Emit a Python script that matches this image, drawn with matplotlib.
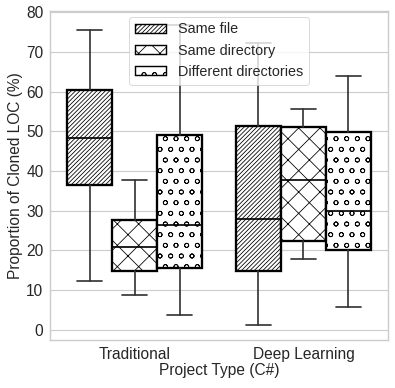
import numpy as np
import matplotlib.pyplot as plt
import matplotlib.patches as mpatches
import seaborn as sns

sns.set_style("whitegrid")
plt.rcParams['font.family'] = ['Liberation Sans', 'DejaVu Sans']
plt.rcParams['hatch.linewidth'] = 0.9

project_types = ["Traditional", "Deep Learning"]
locations = ["Same file", "Same directory", "Different directories"]
hatches = ["/////", "x", "o"]

# box stats: [low whisker, Q1, median, Q3, high whisker]
stats = {
    "Traditional": [
        [12.3, 36.4, 48.4, 60.4, 75.5],
        [8.9, 14.9, 20.8, 27.7, 37.7],
        [3.7, 15.7, 26.4, 49.1, 76.7],
    ],
    "Deep Learning": [
        [1.3, 14.9, 27.8, 51.4, 72.1],
        [17.9, 22.4, 37.7, 51.0, 55.5],
        [5.8, 20.1, 29.9, 49.7, 64.0],
    ],
}

DPI = 64
fig = plt.figure(figsize=(395 / DPI, 388 / DPI), dpi=DPI)
ax = fig.add_axes([0.127, 0.124, 0.855, 0.848])

w = 0.8 / 3
for i, pt in enumerate(project_types):
    for j, loc in enumerate(locations):
        lo, q1, med, q3, hi = stats[pt][j]
        pos = i + (j - 1) * w
        bx = ax.bxp([dict(whislo=lo, q1=q1, med=med, q3=q3, whishi=hi, fliers=[])],
                    positions=[pos], widths=[w], patch_artist=True, showfliers=False,
                    capwidths=[w * 0.55],
                    boxprops=dict(facecolor="white", edgecolor="black", linewidth=2.6),
                    medianprops=dict(color="black", linewidth=1.9),
                    whiskerprops=dict(color="#333333", linewidth=1.9),
                    capprops=dict(color="#333333", linewidth=1.9))
        for b in bx["boxes"]:
            b.set_hatch(hatches[j])
            b.set_zorder(2)

ax.set_xlim(-0.5, 1.5)
ax.set_ylim(-2.5, 80.3)
ax.set_xticks([0, 1])
ax.set_xticklabels(project_types)
ax.set_yticks(np.arange(0, 81, 10))
ax.tick_params(labelsize=17.5, colors="#262626", pad=4)
ax.set_xlabel("Project Type (C#)", fontsize=17.5, color="#262626", labelpad=2)
ax.set_ylabel("Proportion of Cloned LOC (%)", fontsize=17.5, color="#262626", labelpad=4)
ax.grid(axis="x", visible=False)
ax.grid(axis="y", linewidth=1.3)
for s in ax.spines.values():
    s.set_linewidth(1.6)

handles = [mpatches.Patch(facecolor="white", edgecolor="black", hatch=h, label=l, linewidth=1.6)
           for h, l in zip(hatches, locations)]
leg = ax.legend(handles=handles, loc="upper center", fontsize=16.2, framealpha=0.8,
                borderaxespad=0.4, handlelength=2.2, handleheight=0.6)
leg.set_zorder(5)

fig.savefig("out.png", dpi=DPI)
